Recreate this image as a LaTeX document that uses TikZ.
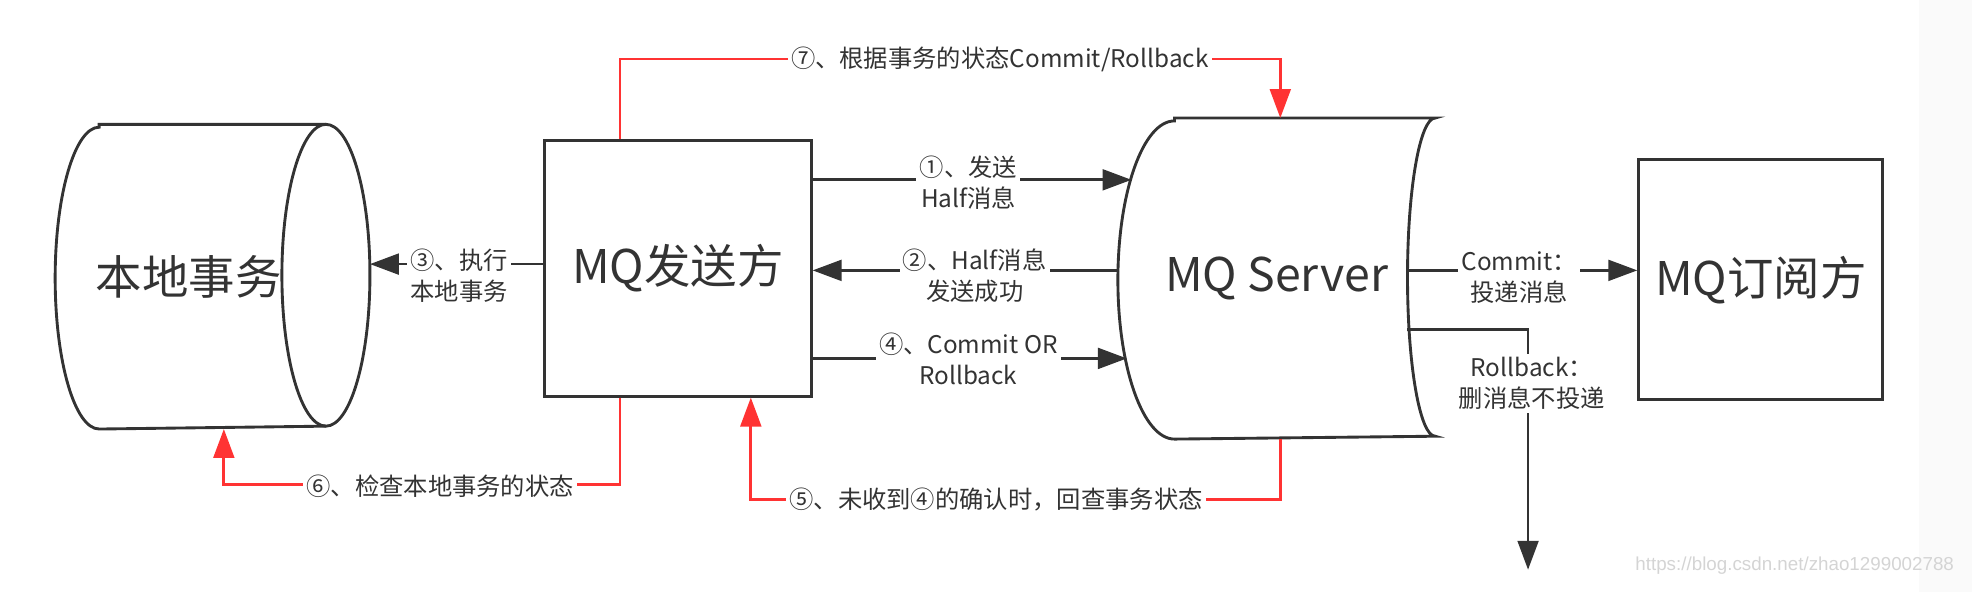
\documentclass[tikz,border=0pt]{standalone}
\usepackage{fontspec}
\setmainfont{Noto Sans CJK SC}
\newfontfamily\urlfont{Liberation Sans}
\usetikzlibrary{arrows.meta}
\definecolor{ink}{HTML}{333333}
\definecolor{hot}{HTML}{FF3333}

\begin{document}
\begin{tikzpicture}[x=2mm,y=2mm]
\tikzset{ >={Triangle[length=4.6mm,width=3.3mm]}, inner sep=0pt,
  box/.style={draw=ink, line width=1.3pt, text=ink, font=\fontsize{21}{25}\selectfont},
  lab/.style={fill=white, inner sep=1.5pt, align=center, text=ink, font=\fontsize{11}{14}\selectfont},
  flow/.style={->, draw=ink, line width=1.25pt},
  back/.style={->, draw=hot, line width=1.25pt},
}
\useasboundingbox (0,0) rectangle (156.8,47.1);
\fill [black!2] (152.6,0) rectangle (156.8,47.1);
%\draw [lightgray, dashed](0,0) grid [step=10] (156.8,47.1);

\node [box, draw=none, minimum width=49.6mm, minimum height=48mm,
       label={[box, draw=none, xshift=-3.8mm]center:本地事务}] (LT) at (16.9,25.1) {};
\node [box, minimum width=42.4mm, minimum height=40.6mm] (sender) at (53.9,25.75) {MQ发送方};
\node [box, draw=none, minimum width=50mm, minimum height=50.6mm] (MQS) at (101.5,24.95) {MQ Server};
\node [box, minimum width=38.8mm, minimum height=38.2mm] (sub) at (140.0,24.85) {MQ订阅方};

% cylinder and stored-data outlines
\draw [ink, line width=1.3pt] ([xshift=7mm]LT.north west) -- ([xshift=-7mm]LT.north east)
      arc (90:-90:7mm and 24mm) -- ([xshift=7mm]LT.south west) arc (270:90:7mm and 24mm) -- cycle;
\draw [ink, line width=1.3pt] ([xshift=-7mm]LT.north east) arc (90:270:7mm and 24mm);
\draw [ink, line width=1.3pt] ([xshift=9mm]MQS.north west) -- (MQS.north east)
      arc (90:270:4.4mm and 25.3mm) -- ([xshift=9mm]MQS.south west) arc (270:90:9mm and 25.3mm) -- cycle;

\coordinate (in1) at (89.97,32.8);
\coordinate (out2) at (89.0,25.6);
\coordinate (in4) at (89.6,18.6);
\coordinate (outC) at (111.8,25.6);
\coordinate (outR) at (111.9,20.9);
\coordinate (kR) at (121.5,20.9);
\coordinate (endR) at (121.5,1.8);

\draw [flow] (sender.east |- in1) -- (in1);
\draw [flow] (out2) -- (sender.east |- out2);
\draw [flow] (sender.east |- in4) -- (in4);
\draw [flow] (sender.west |- 0,26.1) -- (LT.east |- 0,26.1);
\draw [flow] (outC) -- (sub.west |- outC);
\draw [flow] (outR) -- (kR) -- (endR);

\coordinate (k7a) at (49.3,42.4);
\coordinate (k7b) at (101.8,42.4);
\coordinate (k6a) at (49.3,8.6);
\coordinate (k6b) at (17.8,8.6);
\coordinate (k5a) at (101.8,7.4);
\coordinate (k5b) at (59.7,7.4);

\draw [back] (sender.north -| k7a) -- (k7a) -- (k7b) -- (MQS.north -| k7b);
\draw [back] (sender.south -| k6a) -- (k6a) -- (k6b) -- (LT.south -| k6b);
\draw [back] (MQS.south -| k5a) -- (k5a) -- (k5b) -- (sender.south -| k5b);

\node [lab] (L1) at (77.0,32.6) {①、发送\\Half消息};
\node [lab] (L2) at (77.5,25.2) {②、Half消息\\发送成功};
\node [lab] (L4) at (77.0,18.6) {④、Commit OR\\Rollback};
\node [lab] (L3) at (36.5,25.2) {③、执行\\本地事务};
\node [lab] (LC) at (120.8,25.0) {Commit：\\投递消息};
\node [lab] (LR) at (121.8,16.6) {Rollback：\\删消息不投递};
\node [lab] (L7) at (79.5,42.4) {⑦、根据事务的状态Commit/Rollback};
\node [lab] (L6) at (35.0,8.4) {⑥、检查本地事务的状态};
\node [lab] (L5) at (79.2,7.4) {⑤、未收到④的确认时，回查事务状态};

\node [font=\urlfont\fontsize{8.5}{10}\selectfont, text=black!17] (wm) at (142.7,2.1) {https://blog.csdn.net/zhao1299002788};

\end{tikzpicture}
\end{document}
